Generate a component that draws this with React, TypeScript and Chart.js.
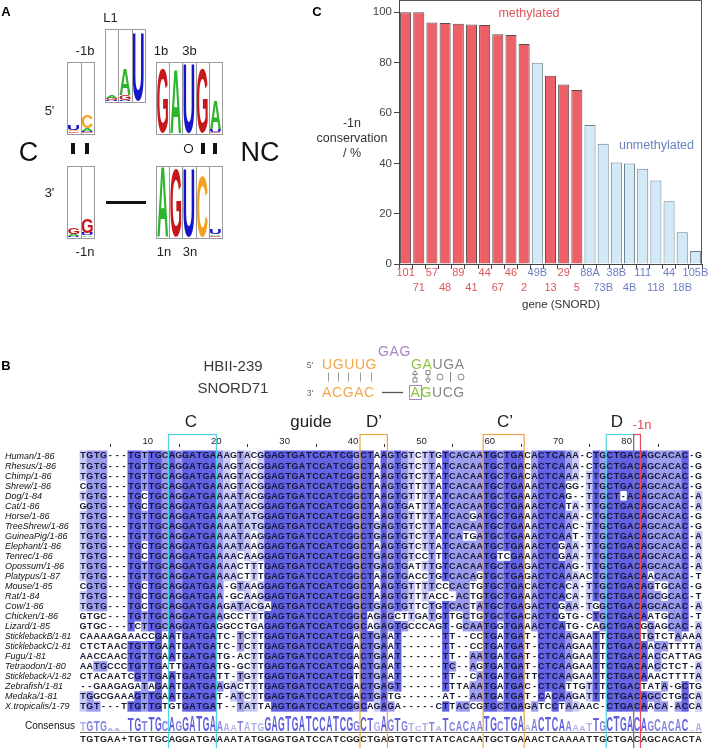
import React, { useEffect, useRef } from 'react';
import { Chart, registerables } from 'chart.js';
Chart.register(...registerables);

const FONT = '"Liberation Sans", Arial, Helvetica, sans-serif';

// ---------------- Panel C data ----------------
const genes = ['101', '71', '57', '48', '89', '41', '44', '67', '46', '2', '49B', '13', '29', '5', '88A', '73B', '38B', '4B', '111', '118', '44', '18B', '105B'];
const conservation = [100, 100, 96, 95.8, 95.5, 95.2, 95, 91.3, 91, 87.4, 80, 74.8, 71.3, 69.1, 55.2, 47.8, 40.3, 39.9, 37.8, 33.2, 24.9, 12.6, 5.2];
const methylated = [true, true, true, true, true, true, true, true, true, true, false, true, true, true, false, false, false, false, false, false, false, false, false];
const yTickValues = [0, 20, 40, 60, 80, 100];

// ---------------- Panel B data ----------------
const seqNames = ['Human/1-86', 'Rhesus/1-86', 'Chimp/1-86', 'Shrew/1-86', 'Dog/1-84', 'Cat/1-86', 'Horse/1-86', 'TreeShrew/1-86', 'GuineaPig/1-86', 'Elephant/1-86', 'Tenrec/1-86', 'Opossum/1-86', 'Platypus/1-87', 'Mouse/1-85', 'Rat/1-84', 'Cow/1-86', 'Chicken/1-86', 'Lizard/1-85', 'SticklebackB/1-81', 'SticklebackC/1-81', 'Fugu/1-81', 'Tetraodon/1-80', 'SticklebackA/1-82', 'Zebrafish/1-81', 'Medaka/1-81', 'X.tropicalis/1-79'];
const sequences = [
  'TGTG--- TGTTGC AGGATGA AAGTACG GAGTGATCCATCGG CTAA GTGTCTTGTCACAA TGCTGA CACTCAAA-CTG CTGA C AGCACAC-G',
  'TGTG--- TGTTGC AGGATGA AAGTACG GAGTGATCCATCGG CTAA GTGTCTTATCACAA TGCTGA CACTCAAA-CTG CTGA C AGCACAC-G',
  'TGTG--- TGTTGC AGGATGA AAGTACG GAGTGATCCATCGG CTAA GTGTCTTATCACAA TGCTGA CACTCAAA-TTG CTGA C AGCACAC-G',
  'CGTG--- TGTTGC AGGATGA AAGTACG GAGTGATCCATCGG CTAA GTGTTTTATCACAA TGCTGA AACTCAGG-TTG CTGA C AGCACAC-G',
  'TGTG--- TGCTGC AGGATGA AAATACG GAGTGATCCATCGG CTAA GTGTTTTATCACAA TGCTGA AACTCAG--TTG CT-A C AGCACAC-A',
  'GGTG--- TGCTGC AGGATGA AAATACG GAGTGATCCATCGG CTAA GTGATTTATCACAA TGCTGA AACTCATA-TTG CTGA C AGCACAC-A',
  'TGTG--- TGTTGC AGGATGA AAATATG GAGTGATCCATCGG CTAA GTGTTTTATCACGA TGCTGA AACTCAAA-CTG CTGA C AGCACAC-G',
  'TGTG--- TGTTGC AGGATGA AAATATG GAGTGATCCATCGG CTGA GTGTCTTATCACAA TGCTGA AACTCAAC-TTG CTGA C AGCACAC-G',
  'TGTG--- TGTTGC AGGATGA AAATAAG GAGTGATCCATCGG CTGA GTGTCTTATCATGA TGCTGA AACTCAAT-TTG CTGA C AGCACAC-A',
  'TGTG--- TGCTGC AGGATGA AAATAAG GAGTGATCCATCGG CTAA GTGTCTTATCACAA TGCTGA AACTCGAA-TTG CTGA C AGCACAC-A',
  'TGTG--- TGCTGC AGGATGA AAACAAG GAGTGATCCATCGG CTGA GTGTCCTTTCACAA TGTCGA AACTCGAA-TTG CTGA C AGCACAC-A',
  'TGTG--- TGTTGC AGGATGA AAACTTT GAGTGATCCATCGG CTGA GTGATTTGTCACAA TGCTGA GACTCAAG-TTG CTGA C AGCACAC-A',
  'TGTG--- TGTTGC AGGATGA AAACTTT GAGTGATCCATCGG CTAA GTGACCTGTCACAG TGCTGA GACTCAAAACTG CTGA C AACACAC-T',
  'CGTG--- TGCTGC AGGATGA A-GTAAG GAGTGATCCATCGG CTAA GTGTTTTCCCACTG TGCTGA CACTCACA-TTG CTGA C AGTGCAC-G',
  'TGTG--- TGCTGC AGGATGA A-GCAAG GAGTGATCCATCGG CTAA GTGTTTACC-ACTG TGCTGA AACTCACA-TTG CTGA C AGCGCAC-T',
  'TGTG--- TGCTGC AGGATGA AGATACG AAGTGATCCATCGG CTGA GTGTTCTGTCACTA TGCTGA GACTCGAA-TGG CTGA C AGCACAC-A',
  'GTGC--- TGTTGC AGGATGA AGCCTTT GAGTGATCCATCGG CAGA GCTTGATGTTGCTG TGCTGA CACTCGTG-CTG CTGA C AATGCAC-T',
  'GTGC--- TCTTGC AGGATGA GGCCTGA GAGTGATCCATCGG CAGA GTGCCCAGT-GCAA TGGTGA AACTCATG-CAG CTGA C GGAGCAC-A',
  'CAAAAGAAACCGAATGATGATC-TCTTGAGTGATCCATCGA CTGAAT------TT--CCTGATGAT-CTCAAGAATTCTGACTGTCTAAAA',
  'CTCTAACTGTTGAATGATGATC-TCTTGAGTGATCCATCGA CTGAAT------TT--CCTGATGAT-CTCAAGAATTCTGACAACATTTTA',
  'AACCAACTGTTGAATGATGATG-ACTTGAGTGATCCATCGA CTGAAT------TT--AATGATGAT-CTCAAGAATTCTGACAACCATTAG',
  'AATGCCCTGTTGATTGATGATG-GCTTGAGTGATCCATCGA CTGAAT------TC--AGTGATGAT-CTCAAGAATTCTGACAACCTCT-A',
  'CTACAATCGTTGAATGATGATT-TGTTGAGTGATCCATCGT CTGAAT------TT--CATGATGATTCTCAAGAATTCTGACAAACTTTTA',
  '--GAAGAGATAGAATGATGAAGACTTTGAGTGATCCATCGA CTGAGT------TTTAAATGATGAC-CTCATTGTTTCTGACTATA-GCTG',
  'TGGCGAAAGTTGAATGATGAT-ATCTTGAGTGATCCATCGA CTGATG------AT--AATGATGAT-CACAAGATTTCTGACAGCCTGCCA',
  'TGT---TTGTTGTGTGATGAT--TATTAAGTGATCCATCGG CAGAGA-----CTTACCGTGCTGAGATCCTAAAAC-CTGACAACA-ACCA',
];
const consensusSequence = 'TGTGAA+TGTTGCAGGATGAAAATATGGAGTGATCCATCGGCTGAGTGTCTTATCACAATGCTGAAACTCAAAATTGCTGACAGCACACTA';
const rulerNumbers = [10, 20, 30, 40, 50, 60, 70, 80];
// motif boxes: [first column, last column]
const motifC = [14, 20];
const motifDp = [42, 45];
const motifCp = [60, 65];
const motifD = [78, 81];
const motifMinus1n = [82, 82];

// ---------------- Panel A data (letter, height px; stacked bottom-up) ----------------
const logo5pTop = [[['G', 1.5], ['C', 1.5], ['U', 5]], [['G', 1], ['U', 1.5], ['A', 2], ['C', 13]]];
const logoL1 = [[['U', 0.8], ['G', 2], ['A', 3]], [['U', 1], ['G', 5], ['A', 26]], [['U', 68]]];
const logoNCTop = [[['G', 64]], [['A', 64]], [['U', 69]], [['G', 64]], [['G', 1], ['U', 3], ['A', 29]]];
const logo3pBottom = [[['U', 1], ['A', 2], ['G', 7]], [['A', 1.5], ['U', 2], ['G', 14]]];
const logoNCBottom = [[['A', 70]], [['G', 68]], [['U', 68]], [['C', 60]], [['G', 1], ['A', 1.5], ['U', 5]]];

const RED_FILL = '#ee6068';
const BLUE_FILL = '#d2eaf8';
const RED_TEXT = '#e0525c';
const BLUE_TEXT = '#6a7fbf';
const LOGO_COLORS: Record<string, string> = { A: '#2cb52c', G: '#c8161d', U: '#1616c8', C: '#f4a21e' };

function drawLetter(ctx: CanvasRenderingContext2D, ch: string, x: number, yTop: number, w: number, h: number, color: string) {
  if (h <= 0 || w <= 0) return;
  ctx.save();
  ctx.font = `bold 100px ${FONT}`;
  ctx.textAlign = 'left';
  ctx.textBaseline = 'alphabetic';
  const m = ctx.measureText(ch);
  const asc = m.actualBoundingBoxAscent;
  const desc = m.actualBoundingBoxDescent;
  const lw = m.actualBoundingBoxLeft + m.actualBoundingBoxRight;
  ctx.translate(x, yTop);
  ctx.scale(w / lw, h / (asc + desc));
  ctx.fillStyle = color;
  ctx.fillText(ch, m.actualBoundingBoxLeft, asc);
  ctx.restore();
}

function drawLogo(ctx: CanvasRenderingContext2D, cols: any[], x: number, y: number, w: number, h: number) {
  const cw = w / cols.length;
  cols.forEach((col: any[], i: number) => {
    let yb = y + h - 1;
    const cx = x + i * cw;
    col.forEach(([ch, hh]: [string, number]) => {
      drawLetter(ctx, ch, cx + 1.2, yb - hh, cw - 2.4, hh, LOGO_COLORS[ch]);
      yb -= hh;
    });
  });
  ctx.save();
  ctx.strokeStyle = '#9a9a9a';
  ctx.lineWidth = 1;
  ctx.strokeRect(Math.round(x) + 0.5, Math.round(y) + 0.5, Math.round(w), Math.round(h));
  for (let i = 1; i < cols.length; i++) {
    const sx = Math.round(x + i * cw) + 0.5;
    ctx.beginPath();
    ctx.moveTo(sx, Math.round(y));
    ctx.lineTo(sx, Math.round(y + h));
    ctx.stroke();
  }
  ctx.restore();
}

function drawFigure(ctx: CanvasRenderingContext2D) {
  ctx.clearRect(0, 0, 708, 748);
  // ---------- Panel A ----------
  drawLogo(ctx, logo5pTop, 67, 62, 27, 72);
  drawLogo(ctx, logoL1, 105, 29, 40, 73);
  drawLogo(ctx, logoNCTop, 156, 62, 66, 72);
  drawLogo(ctx, logo3pBottom, 67, 166, 27, 72);
  drawLogo(ctx, logoNCBottom, 156, 166, 66, 72);
  ctx.fillStyle = '#111';
  ctx.fillRect(71, 143, 4, 11);
  ctx.fillRect(85, 143, 4, 11);
  ctx.fillRect(201, 143, 4, 11);
  ctx.fillRect(213, 143, 4, 11);
  ctx.fillRect(106, 201, 40, 3);
  ctx.strokeStyle = '#111';
  ctx.lineWidth = 1.2;
  ctx.beginPath();
  ctx.arc(188.5, 148.5, 4, 0, Math.PI * 2);
  ctx.stroke();

  // ---------- Panel B structure ----------
  ctx.strokeStyle = '#9a9a9a';
  ctx.lineWidth = 1;
  [327.7, 337.7, 348.3, 359.5, 370.5].forEach((px) => {
    ctx.beginPath();
    ctx.moveTo(Math.round(px) + 0.5, 372.5);
    ctx.lineTo(Math.round(px) + 0.5, 381.5);
    ctx.stroke();
  });
  ctx.strokeStyle = '#555';
  ctx.lineWidth = 1.3;
  ctx.beginPath();
  ctx.moveTo(382, 392.5);
  ctx.lineTo(403, 392.5);
  ctx.stroke();
  ctx.strokeStyle = '#888';
  ctx.lineWidth = 1;
  ctx.beginPath();
  ctx.moveTo(412.5, 374.5); ctx.lineTo(415, 370.5); ctx.lineTo(417.5, 374.5); ctx.closePath();
  ctx.moveTo(415, 374.5); ctx.lineTo(415, 378);
  ctx.stroke();
  ctx.strokeRect(413, 378, 4, 4);
  ctx.strokeRect(426, 370.5, 4, 4);
  ctx.beginPath();
  ctx.moveTo(428, 374.5); ctx.lineTo(428, 379);
  ctx.moveTo(425.5, 379); ctx.lineTo(430.5, 379); ctx.lineTo(428, 383); ctx.closePath();
  ctx.stroke();
  ctx.beginPath(); ctx.arc(440, 377, 3, 0, Math.PI * 2); ctx.stroke();
  ctx.beginPath(); ctx.moveTo(450.5, 372); ctx.lineTo(450.5, 382); ctx.stroke();
  ctx.beginPath(); ctx.arc(461, 377, 3, 0, Math.PI * 2); ctx.stroke();
  ctx.strokeStyle = '#a883c8';
  ctx.strokeRect(409.5, 385.5, 12, 14);

  // ---------- Panel B alignment ----------
  const N = 91;
  const cellW = 6.84;
  const col1C = 83;
  const rowH = 10.03;
  const row0C = 455.5;
  const seqs = sequences.map((s) => s.replace(/ /g, '').padEnd(N, '-').slice(0, N));
  const modes: string[] = [];
  const pids: number[] = [];
  for (let c = 0; c < N; c++) {
    const counts: Record<string, number> = {};
    seqs.forEach((s) => {
      const ch = s[c];
      if (ch !== '-') counts[ch] = (counts[ch] || 0) + 1;
    });
    let best = '-';
    let bc = 0;
    Object.keys(counts).forEach((k) => {
      if (counts[k] > bc) { bc = counts[k]; best = k; }
    });
    modes.push(best);
    pids.push((bc / seqs.length) * 100);
  }
  const colCenter = (c: number) => col1C + (c - 1) * cellW;
  ctx.fillStyle = '#222';
  ctx.font = `9.5px ${FONT}`;
  ctx.textBaseline = 'middle';
  ctx.textAlign = 'left';
  rulerNumbers.forEach((n) => ctx.fillText(String(n), colCenter(n) - 2, 441));
  ctx.fillStyle = '#333';
  for (let n = 5; n <= 85; n += 10) ctx.fillRect(Math.round(colCenter(n)), 444, 1, 3);
  seqs.forEach((s, r) => {
    const yTop = row0C + r * rowH - rowH / 2;
    for (let c = 0; c < N; c++) {
      const ch = s[c];
      if (ch !== modes[c]) continue;
      const p = pids[c];
      let col = '';
      if (p > 80) col = '#6262e4';
      else if (p > 60) col = '#9c9cee';
      else if (p > 40) col = '#cacaf6';
      if (!col) continue;
      ctx.fillStyle = col;
      ctx.fillRect(colCenter(c + 1) - cellW / 2, yTop, cellW + 0.4, rowH + 0.4);
    }
  });
  ctx.textAlign = 'center';
  ctx.textBaseline = 'middle';
  ctx.font = `bold 9px ${FONT}`;
  ctx.fillStyle = '#161630';
  seqs.forEach((s, r) => {
    const yc = row0C + r * rowH + 0.5;
    for (let c = 0; c < N; c++) ctx.fillText(s[c], colCenter(c + 1), yc);
  });
  ctx.textAlign = 'left';
  ctx.font = `italic 9px ${FONT}`;
  ctx.fillStyle = '#111';
  seqNames.forEach((nm, r) => ctx.fillText(nm, 5, row0C + r * rowH + 0.5, 66));
  ctx.font = `10px ${FONT}`;
  ctx.textAlign = 'right';
  ctx.fillText('Consensus', 75, 726);
  for (let c = 0; c < N; c++) {
    if (modes[c] === '-') continue;
    const p = pids[c];
    const h = Math.max(1.5, (p / 100) * 15);
    const color = p > 80 ? '#5e5ee0' : p > 60 ? '#8282e2' : '#aeaee8';
    drawLetter(ctx, modes[c], colCenter(c + 1) - cellW / 2 + 0.5, 731 - h, cellW - 1, h, color);
  }
  ctx.fillStyle = '#666';
  ctx.fillRect(80, 732, 622, 1);
  ctx.textAlign = 'center';
  ctx.font = `bold 9px ${FONT}`;
  ctx.fillStyle = '#222';
  for (let c = 0; c < N; c++) ctx.fillText(consensusSequence[c], colCenter(c + 1), 740);
  const box = (rng: number[], color: string) => {
    const x0 = colCenter(rng[0]) - cellW / 2;
    const x1 = colCenter(rng[1]) + cellW / 2;
    ctx.strokeStyle = color;
    ctx.lineWidth = 1.2;
    ctx.strokeRect(x0, 434.5, x1 - x0, 330);
  };
  box(motifC, '#4fd2e2');
  box(motifD, '#4fd2e2');
  box(motifDp, '#eea44c');
  box(motifCp, '#eea44c');
  box(motifMinus1n, '#e8485a');
}

function Txt(props: any) {
  const { x, y, children, size = 13, color = '#222', weight = 400, italic = false, align = 'center', spacing = 0 } = props;
  const tx = align === 'center' ? '-50%' : align === 'right' ? '-100%' : '0';
  return (
    <div style={{ position: 'absolute', left: x, top: y, transform: `translate(${tx},-50%)`, fontSize: size, color, fontWeight: weight, fontStyle: italic ? 'italic' : 'normal', whiteSpace: 'nowrap', lineHeight: 1, letterSpacing: spacing }}>
      {children}
    </div>
  );
}

export default function App() {
  const chartRef = useRef<HTMLCanvasElement>(null);
  const figRef = useRef<HTMLCanvasElement>(null);

  useEffect(() => {
    const fctx = figRef.current!.getContext('2d')!;
    drawFigure(fctx);
  }, []);

  useEffect(() => {
    const framePlugin = {
      id: 'frame',
      afterDraw(chart: any) {
        const { ctx, chartArea } = chart;
        const { left, top, right, bottom } = chartArea;
        ctx.save();
        ctx.strokeStyle = '#555';
        ctx.lineWidth = 1;
        ctx.beginPath();
        ctx.moveTo(Math.round(left), Math.round(top) - 0.5);
        ctx.lineTo(Math.round(right) - 0.5, Math.round(top) - 0.5);
        ctx.lineTo(Math.round(right) - 0.5, Math.round(bottom));
        ctx.stroke();
        ctx.restore();
      },
    };
    const chart = new Chart(chartRef.current!, {
      type: 'bar',
      data: {
        labels: genes.map((g, i) => (i % 2 === 0 ? [g, ''] : ['', g])),
        datasets: [
          {
            data: conservation,
            backgroundColor: methylated.map((m) => (m ? RED_FILL : BLUE_FILL)),
            borderColor: methylated.map((m) => (m ? '#5a4b4b' : '#6f8089')),
            borderWidth: 1,
            barPercentage: 0.84,
            categoryPercentage: 1,
          },
        ],
      },
      options: {
        responsive: false,
        animation: false,
        devicePixelRatio: 1,
        layout: { padding: { top: 1, right: 18, left: 0, bottom: 0 } },
        plugins: { legend: { display: false }, tooltip: { enabled: false }, title: { display: false } },
        scales: {
          x: {
            grid: { display: true, drawOnChartArea: false, drawTicks: true, tickLength: 5, offset: true, color: '#444' },
            border: { display: true, color: '#444', width: 1 },
            ticks: {
              autoSkip: false,
              maxRotation: 0,
              minRotation: 0,
              padding: -3.5,
              font: { family: FONT, size: 11, lineHeight: 15 / 11 },
              color: (c: any) => (methylated[c.index] ? RED_TEXT : BLUE_TEXT),
            },
            afterFit: (s: any) => { s.height = 56; s.paddingLeft = 0; s.paddingRight = 0; },
          },
          y: {
            min: 0,
            max: 104.5,
            grid: { display: true, drawOnChartArea: false, drawTicks: true, tickLength: 5, color: '#444' },
            border: { display: true, color: '#444', width: 1 },
            afterBuildTicks: (s: any) => { s.ticks = yTickValues.map((v) => ({ value: v })); },
            ticks: { padding: 2, color: '#444', font: { family: FONT, size: 11.5 } },
            afterFit: (s: any) => { s.width = 99; s.paddingTop = 0; s.paddingBottom = 0; },
          },
        },
      },
      plugins: [framePlugin],
    } as any);
    return () => chart.destroy();
  }, []);

  return (
    <div style={{ position: 'fixed', left: 0, top: 0, width: 708, height: 748, overflow: 'hidden', background: '#fff', fontFamily: FONT }}>
      <canvas ref={figRef} width={708} height={748} style={{ position: 'absolute', left: 0, top: 0 }} />
      <canvas ref={chartRef} width={420} height={320} style={{ position: 'absolute', left: 300, top: 0 }} />

      {/* Panel A labels */}
      <Txt x={6} y={11} size={13} weight={700} color="#000">A</Txt>
      <Txt x={110.5} y={17} size={13} color="#222">L1</Txt>
      <Txt x={85} y={50} size={13} color="#222">-1b</Txt>
      <Txt x={161} y={50} size={13} color="#222">1b</Txt>
      <Txt x={189.5} y={50} size={13} color="#222">3b</Txt>
      <Txt x={49.5} y={110} size={13} color="#222">5'</Txt>
      <Txt x={49.5} y={192} size={13} color="#222">3'</Txt>
      <Txt x={28.5} y={152} size={27} color="#111">C</Txt>
      <Txt x={260} y={152} size={27} color="#111">NC</Txt>
      <Txt x={85} y={250.5} size={13} color="#222">-1n</Txt>
      <Txt x={164} y={250.5} size={13} color="#222">1n</Txt>
      <Txt x={190} y={250.5} size={13} color="#222">3n</Txt>

      {/* Panel C labels */}
      <Txt x={317} y={11} size={13} weight={700} color="#000">C</Txt>
      <div style={{ position: 'absolute', left: 302, top: 115.5, width: 100, textAlign: 'center', fontSize: 12.5, lineHeight: '15px', color: '#333' }}>
        -1n<br />conservation<br />/ %
      </div>
      <Txt x={561} y={305} size={11.5} color="#333">gene (SNORD)</Txt>
      <Txt x={529} y={13} size={12.5} color={RED_TEXT}>methylated</Txt>
      <Txt x={656.5} y={145} size={12.5} color={BLUE_TEXT}>unmethylated</Txt>

      {/* Panel B labels */}
      <Txt x={6} y={365} size={13} weight={700} color="#000">B</Txt>
      <Txt x={233} y={365} size={15} color="#3a3a3a">HBII-239</Txt>
      <Txt x={233} y={387} size={15} color="#3a3a3a">SNORD71</Txt>
      <Txt x={310} y={365} size={8.5} color="#666">5'</Txt>
      <Txt x={310} y={393} size={8.5} color="#666">3'</Txt>
      <Txt x={322} y={364} size={14} color="#f2a84a" align="left" spacing={0.6}>UGUUG</Txt>
      <Txt x={378} y={351} size={14} color="#a883c8" align="left" spacing={0.6}>GAG</Txt>
      <Txt x={411} y={364} size={14} align="left" spacing={0.6}>
        <span style={{ color: '#8cc63f' }}>GA</span><span style={{ color: '#888' }}>UGA</span>
      </Txt>
      <Txt x={322} y={392} size={14} color="#f2a84a" align="left" spacing={0.6}>ACGAC</Txt>
      <Txt x={410.5} y={392} size={14} align="left" spacing={0.6}>
        <span style={{ color: '#8cc63f' }}>AG</span><span style={{ color: '#888' }}>UCG</span>
      </Txt>
      <Txt x={191} y={421} size={17} color="#222">C</Txt>
      <Txt x={311} y={421} size={17} color="#222">guide</Txt>
      <Txt x={374} y={421} size={17} color="#222">D’</Txt>
      <Txt x={505} y={421} size={17} color="#222">C’</Txt>
      <Txt x={617} y={421} size={17} color="#222">D</Txt>
      <Txt x={642} y={424} size={13} color="#e8485a">-1n</Txt>
    </div>
  );
}
